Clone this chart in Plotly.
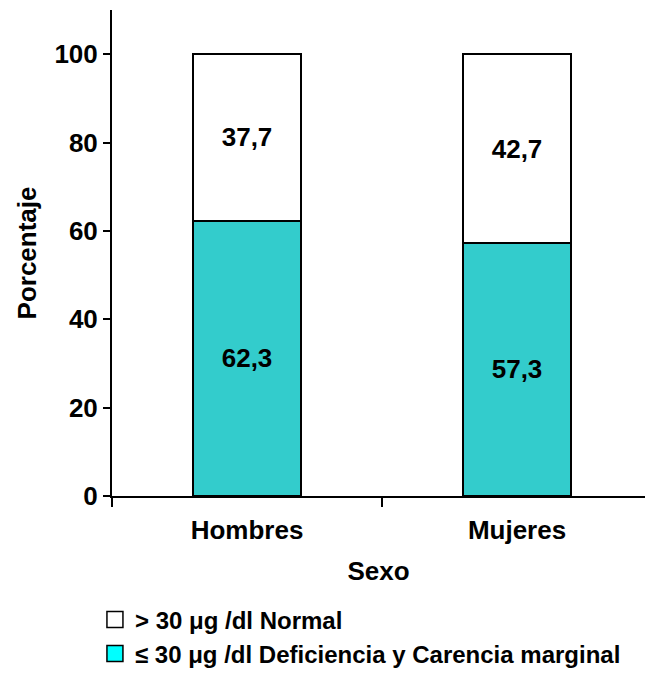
import plotly.graph_objects as go

# Data
categories = ["Hombres", "Mujeres"]
deficiencia = [62.3, 57.3]   # <= 30 µg/dl
normal = [37.7, 42.7]        # > 30 µg/dl
series_names = ["> 30 \u03bcg /dl Normal", "\u2264 30 \u03bcg /dl Deficiencia y Carencia marginal"]
y_ticks = [0, 20, 40, 60, 80, 100]

FONT = "Liberation Sans, Arial, sans-serif"
BAR_CYAN = "#33CCCC"
LEGEND_CYAN = "#00FFFF"

x_pos = list(range(len(categories)))

fig = go.Figure()

# Stacked bars
fig.add_trace(go.Bar(
    x=x_pos, y=deficiencia, width=0.4,
    marker=dict(color=BAR_CYAN, line=dict(color="black", width=2)),
    texttemplate="<b>%{y:.1f}</b>", textposition="inside", insidetextanchor="middle",
    textfont=dict(family=FONT, size=26, color="black"),
    showlegend=False, hoverinfo="skip",
))
fig.add_trace(go.Bar(
    x=x_pos, y=normal, width=0.4,
    marker=dict(color="white", line=dict(color="black", width=2)),
    texttemplate="<b>%{y:.1f}</b>", textposition="inside", insidetextanchor="middle",
    textfont=dict(family=FONT, size=26, color="black"),
    showlegend=False, hoverinfo="skip",
))

# Legend entries
for name, col in zip(series_names, ["white", LEGEND_CYAN]):
    fig.add_trace(go.Scatter(
        x=[None], y=[None], name=f"<b>{name}</b>", mode="markers",
        marker=dict(symbol="square", size=18, color=col,
                    line=dict(color="black", width=1.5)),
    ))

# Invisible trace on a second x-axis carrying the between-category ticks
fig.add_trace(go.Scatter(x=[-0.5, 1.5], y=[None, None], xaxis="x2",
                         showlegend=False, hoverinfo="skip"))

fig.update_layout(
    width=645, height=677,
    margin=dict(l=112, r=0, t=10, b=181),
    paper_bgcolor="white", plot_bgcolor="white",
    barmode="stack",
    separators=",.",
    font=dict(family=FONT, size=26, color="black"),
    xaxis=dict(
        range=[-0.5, 1.474], tickmode="array", tickvals=x_pos,
        ticktext=[f"<b>{c}</b>" for c in categories],
        ticks="outside", ticklen=10, tickcolor="rgba(0,0,0,0)",
        showline=True, linecolor="black", linewidth=2,
        showgrid=False, zeroline=False, automargin=False,
        tickfont=dict(family=FONT, size=26),
        title=dict(text="<b>Sexo</b>", font=dict(family=FONT, size=26), standoff=18),
    ),
    xaxis2=dict(
        overlaying="x", matches="x", range=[-0.5, 1.474], side="bottom",
        tickmode="array", tickvals=[-0.5, 0.5, 1.5], showticklabels=False,
        ticks="outside", ticklen=10, tickwidth=2, tickcolor="black",
        showline=False, showgrid=False, zeroline=False, automargin=False,
    ),
    yaxis=dict(
        range=[0, 110], tickmode="array", tickvals=y_ticks,
        ticktext=[f"<b>{v}</b>" for v in y_ticks],
        ticks="outside", ticklen=7, tickwidth=2, tickcolor="black",
        showline=True, linecolor="black", linewidth=2,
        showgrid=False, zeroline=False, automargin=False,
        tickfont=dict(family=FONT, size=26),
        title=dict(text="<b>Porcentaje</b>", font=dict(family=FONT, size=26), standoff=10),
    ),
    legend=dict(
        x=-0.032, y=-0.371, xanchor="left", yanchor="bottom",
        orientation="v", traceorder="normal",
        font=dict(family=FONT, size=24, color="black"),
        itemwidth=30, tracegroupgap=0,
        bgcolor="rgba(0,0,0,0)",
    ),
)

fig.write_html("out.html")
